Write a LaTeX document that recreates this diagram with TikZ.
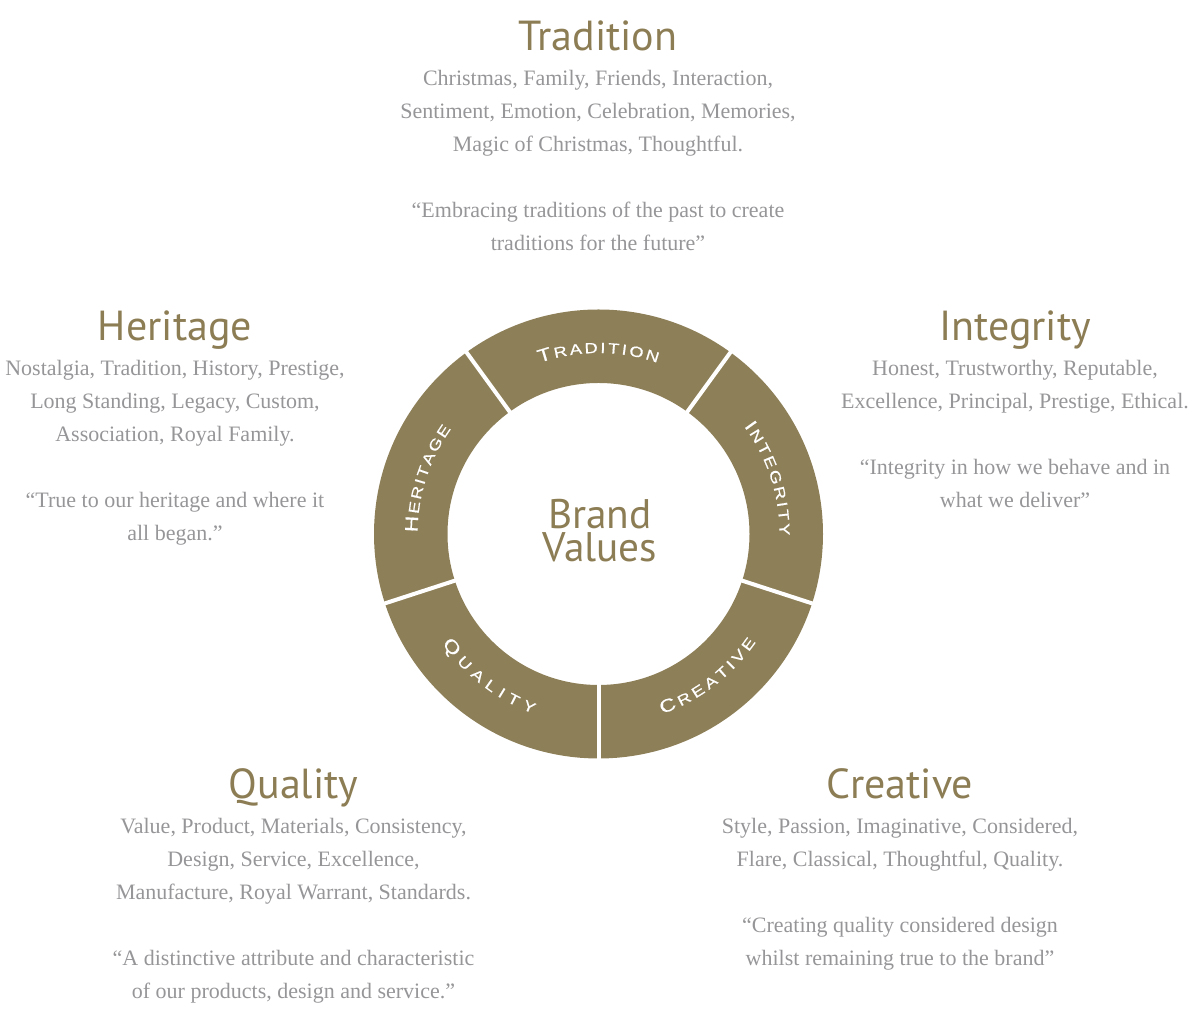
\documentclass[tikz,border=0pt]{standalone}
\usepackage{fontspec}
\setmainfont{Liberation Serif}
\newfontfamily\headfont{PT Sans}
\newfontfamily\ringfont[FakeStretch=1.25, FakeBold=0.6]{Liberation Sans}
\usepackage{tikz}
\usetikzlibrary{positioning, calc, decorations.text}

\definecolor{ringgold}{RGB}{141,127,88}
\definecolor{headgold}{RGB}{140,125,85}
\definecolor{bodygray}{RGB}{150,150,153}

\newcommand\ringcap{\ringfont\fontsize{13.5}{13.5}\selectfont}
\newcommand\ringsc{\ringfont\fontsize{11}{11}\selectfont}

\tikzset{
  headtxt/.style={font=\headfont\fontsize{31.5}{31.5}\selectfont, text=headgold, anchor=base, inner sep=0pt},
  bodytxt/.style={font=\fontsize{16.5}{24.75}\selectfont, text=bodygray, align=center, anchor=base, inner sep=0pt},
  brandtxt/.style={font=\headfont\fontsize{31}{24.75}\selectfont, text=headgold, align=center, anchor=base, inner sep=0pt},
  sepline/.style={white, line width=3pt},
  ringlbl/.style={decorate, decoration={text along path, text color=white, text align={fit to path}, text={#1}}}
}

\begin{document}
\begin{tikzpicture}[x=0.75pt, y=0.75pt]

      \useasboundingbox (0,0) rectangle (1200,1013);

      % RING

      \begin{scope}[shift={(598.5,479)}]
        \fill[ringgold, even odd rule] (0,0) circle[radius=224.5] (0,0) circle[radius=151];
        \foreach \a in {54,126,198,270,342}
          \draw[sepline] (\a:149) -- (\a:226);

        % RING LABELS

        \path[ringlbl={|\ringcap|T|\ringsc|RADITION}] (109:181) arc[start angle=109, end angle=71, radius=181];
        \path[ringlbl={|\ringcap|I|\ringsc|NTEGRITY}] (36.5:181) arc[start angle=36.5, end angle=-0.5, radius=181];
        \path[ringlbl={|\ringcap|H|\ringsc|ERITAGE}] (179.5:181) arc[start angle=179.5, end angle=144.5, radius=181];
        \path[ringlbl={|\ringcap|Q|\ringsc|UALITY}] (215:191) arc[start angle=215, end angle=250, radius=191];
        \path[ringlbl={|\ringcap|C|\ringsc|REATIVE}] (-70.5:191) arc[start angle=-70.5, end angle=-34.5, radius=191];

        % base of a two line node is its last line
        \node[brandtxt] (brand) at (1.5,-28) {Brand\\Values};
      \end{scope}

      % TITLES

      \node[headtxt] (tradT) at (598,962) {Tradition};
      \node[headtxt] (heriT) at (175,672) {Heritage};
      \node[headtxt] (inteT) at (1015,672) {Integrity};
      \node[headtxt] (qualT) at (293.5,214) {Quality};
      \node[headtxt] (creaT) at (900,214) {Creative};

      % TEXTS

      \node[bodytxt] (tradB) at ($(tradT.base)-(0,200)$) {Christmas, Family, Friends, Interaction,\\Sentiment, Emotion, Celebration, Memories,\\Magic of Christmas, Thoughtful.\\[24.75pt]“Embracing traditions of the past to create\\traditions for the future”};
      \node[bodytxt] (heriB) at ($(heriT.base)-(0,200)$) {Nostalgia, Tradition, History, Prestige,\\Long Standing, Legacy, Custom,\\Association, Royal Family.\\[24.75pt]“True to our heritage and where it\\all began.”};
      \node[bodytxt] (inteB) at ($(inteT.base)-(0,167)$) {Honest, Trustworthy, Reputable,\\Excellence, Principal, Prestige, Ethical.\\[24.75pt]“Integrity in how we behave and in\\what we deliver”};
      \node[bodytxt] (qualB) at ($(qualT.base)-(0,200)$) {Value, Product, Materials, Consistency,\\Design, Service, Excellence,\\Manufacture, Royal Warrant, Standards.\\[24.75pt]“A distinctive attribute and characteristic\\of our products, design and service.”};
      \node[bodytxt] (creaB) at ($(creaT.base)-(0,167)$) {Style, Passion, Imaginative, Considered,\\Flare, Classical, Thoughtful, Quality.\\[24.75pt]“Creating quality considered design\\whilst remaining true to the brand”};

\end{tikzpicture}
\end{document}
